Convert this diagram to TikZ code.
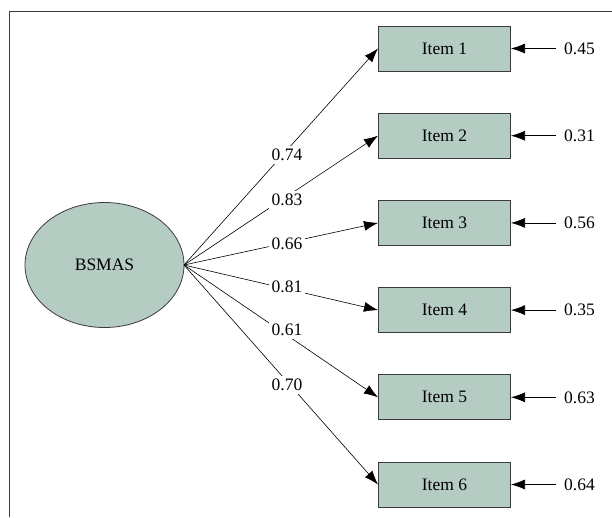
\documentclass[tikz,border=0pt]{standalone}
\usepackage{fontspec}
\setmainfont{Liberation Serif}
\usetikzlibrary{arrows.meta,shapes.geometric}
\definecolor{boxfill}{HTML}{B5CCC3}
\definecolor{edgegray}{HTML}{3A3A3A}
\tikzset{
  txt/.style={font=\fontsize{17.5}{20}\selectfont},
  itembox/.style={txt, draw=edgegray, line width=1pt, fill=boxfill, minimum width=132pt, minimum height=45pt, inner sep=0pt},
  latent/.style={txt, draw=edgegray, line width=0.8pt, fill=boxfill, ellipse, minimum width=159pt, minimum height=125pt, inner sep=0pt},
  lbl/.style={txt, fill=white, inner sep=3pt},
  errlbl/.style={txt, inner sep=0pt, anchor=west},
  loadarrow/.style={draw=black, line width=0.6pt, -{Latex[length=14pt,width=10pt]}},
  frameline/.style={draw=edgegray, line width=0.9pt}
}
\begin{document}
\begin{tikzpicture}[x=1pt, y=-1pt]
\useasboundingbox (0,0) rectangle (612,517);
\coordinate (f1) at (9,517);
\coordinate (f2) at (9,11);
\coordinate (f3) at (612,11);
\draw[frameline] (f1) -- (f2) -- (f3);
\node[latent] (L) at (104.5,265) {BSMAS};
\coordinate (o) at (184,265);
\foreach \i/\y/\e/\l/\ly in {1/48.5/0.45/0.74/155, 2/135.7/0.31/0.83/200, 3/222.9/0.56/0.66/244, 4/310.1/0.35/0.81/287, 5/397.3/0.63/0.61/330, 6/484.5/0.64/0.70/385} {
  \node[itembox] (I\i) at (444.5,\y) {Item \i};
  \coordinate (e\i) at (556,\y);
  \node[errlbl] (E\i) at (564,\y) {\e};
  \draw[loadarrow] (e\i) -- (I\i.east);
  \draw[loadarrow] (o) -- (I\i.west);
  \node[lbl] (W\i) at (287,\ly) {\l};
}
\end{tikzpicture}
\end{document}
